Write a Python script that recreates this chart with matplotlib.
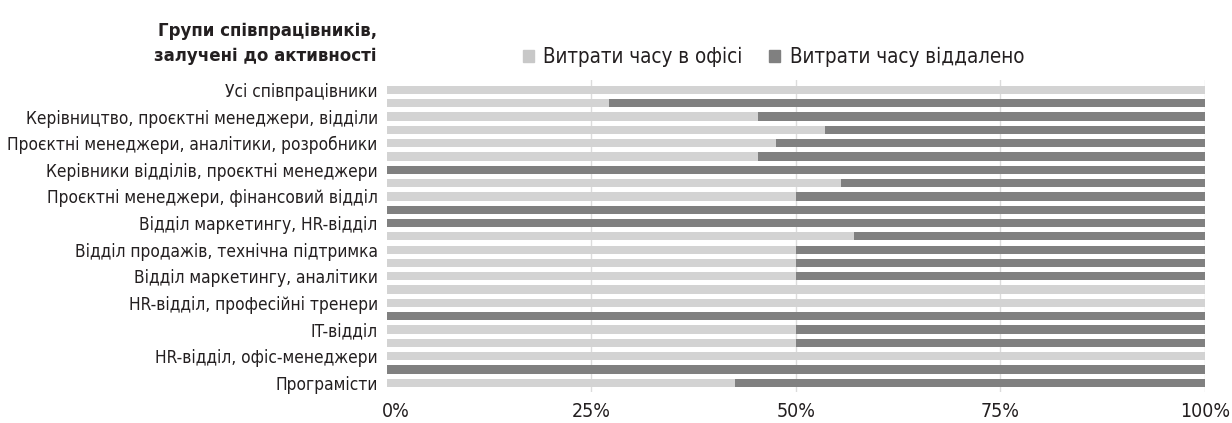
import matplotlib.pyplot as plt
from matplotlib.patches import Patch
from matplotlib.transforms import ScaledTranslation

plt.rcParams['font.family'] = ['DejaVu Sans']
plt.rcParams['font.stretch'] = 'condensed'

# row labels (every second bar carries a label)
groups = [
    'Усі співпрацівники',
    'Керівництво, проєктні менеджери, відділи',
    'Проєктні менеджери, аналітики, розробники',
    'Керівники відділів, проєктні менеджери',
    'Проєктні менеджери, фінансовий відділ',
    'Відділ маркетингу, HR-відділ',
    'Відділ продажів, технічна підтримка',
    'Відділ маркетингу, аналітики',
    'HR-відділ, професійні тренери',
    'IT-відділ',
    'HR-відділ, офіс-менеджери',
    'Програмісти',
]
# share of time in office, % (top to bottom)
office = [100, 27.2, 45.4, 53.6, 47.6, 45.4, 0, 55.5, 50, 0, 0, 57.1,
          50, 50, 50, 100, 100, 0, 50, 50, 100, 0, 42.5]
remote = [100 - v for v in office]

series_names = ['Витрати часу в офісі', 'Витрати часу віддалено']
light = '#d3d3d3'
dark = '#808080'
txt = '#231f20'

fig = plt.figure(figsize=(12.32, 4.23), dpi=100)
ax = fig.add_axes([370 / 1232, 1 - 392 / 423, (1205 - 370) / 1232, (392 - 80) / 423])

ypos = list(range(len(office)))
ax.barh(ypos, office, height=0.62, color=light, zorder=2)
ax.barh(ypos, remote, left=office, height=0.62, color=dark, zorder=2)

for x in [25, 50, 75, 100]:
    ax.axvline(x, color='#dcdcdc', lw=1, zorder=1)

ax.set_xlim(-2.05, 100)
ax.set_ylim(len(office) - 0.3, -0.75)
ax.set_xticks([0, 25, 50, 75, 100])
ax.set_xticklabels(['0%', '25%', '50%', '75%', '100%'], fontsize=14, color=txt)
ax.set_yticks(ypos[::2])
ax.set_yticklabels(groups, fontsize=12.4, color=txt)
ax.tick_params(length=0)
ax.tick_params(axis='y', pad=-5.5)
ax.tick_params(axis='x', pad=7)
for s in ax.spines.values():
    s.set_visible(False)

# the "0%" label sits a little right of the bar start
lab0 = ax.get_xticklabels()[0]
lab0.set_transform(lab0.get_transform() + ScaledTranslation(0.09, 0, fig.dpi_scale_trans))

fig.text(377 / 1232, 1 - 43.5 / 423, 'Групи співпрацівників,\nзалучені до активності',
         ha='right', va='center', fontsize=13.3, fontweight='bold', color=txt,
         linespacing=1.45)

handles = [Patch(color='#c8c8c8'), Patch(color=dark)]
fig.legend(handles, series_names, loc='center left', ncol=2,
           bbox_to_anchor=(504 / 1232, 1 - 57 / 423), frameon=False,
           fontsize=14.8, handlelength=0.55, handleheight=0.55, handletextpad=0.45,
           columnspacing=1.3, labelcolor=txt)

fig.savefig('out.png', dpi=100)
